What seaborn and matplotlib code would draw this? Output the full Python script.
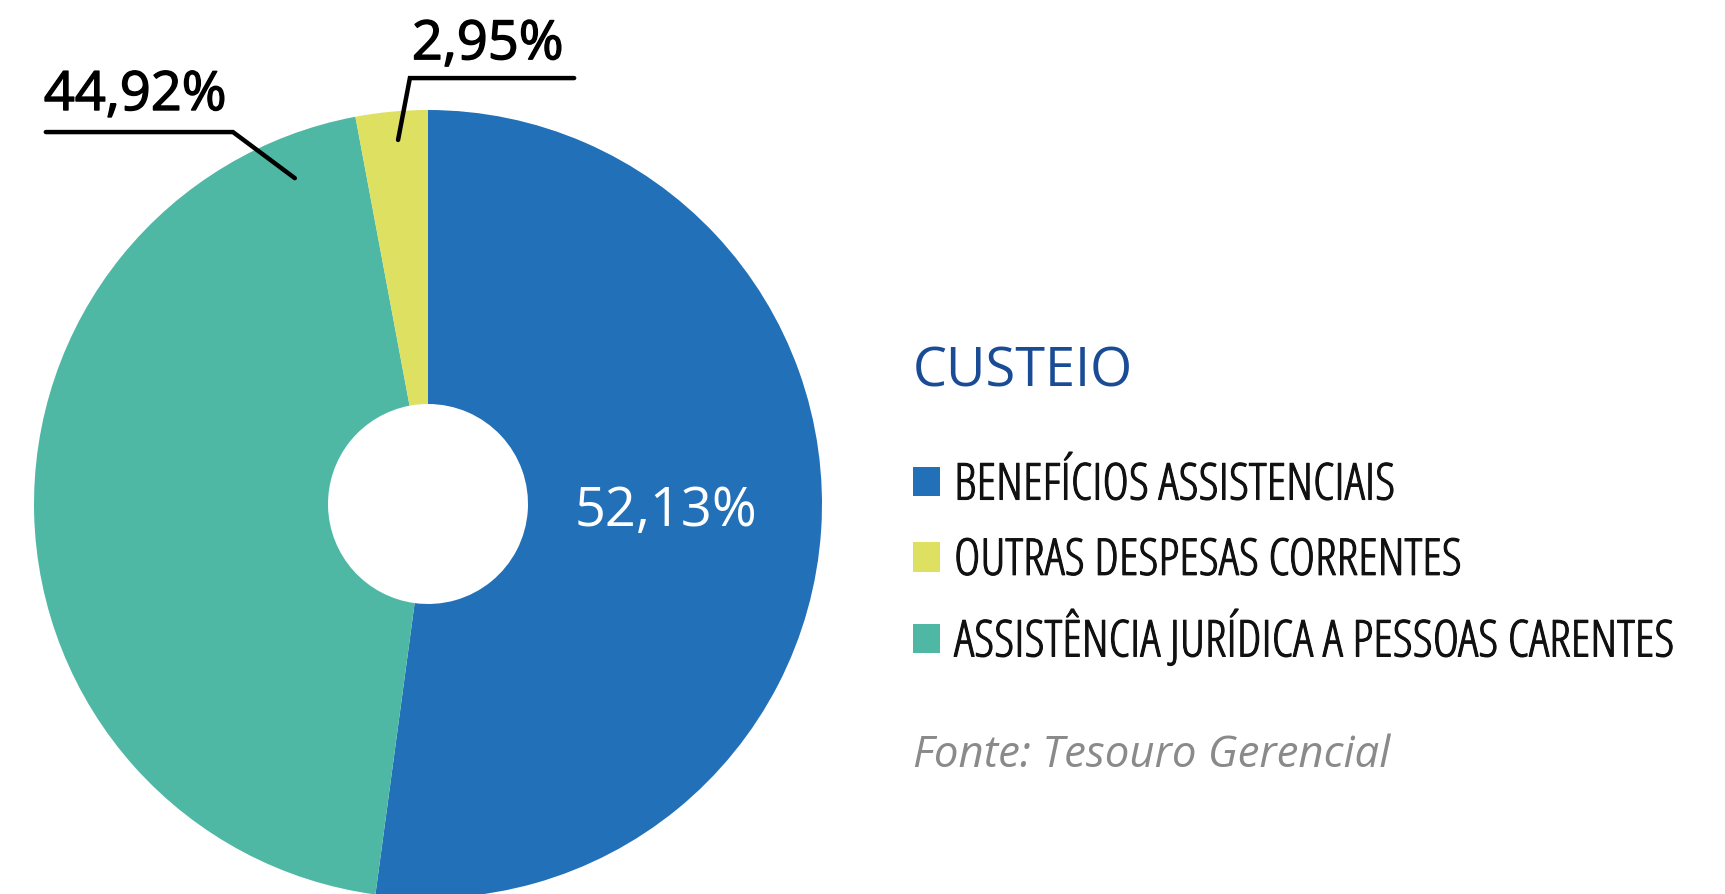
import matplotlib
matplotlib.use("Agg")
import matplotlib.pyplot as plt
import seaborn as sns
from matplotlib.patches import Patch
from matplotlib import font_manager as fm
import matplotlib.patheffects as pe

# ---- data ----
categories = ["BENEFÍCIOS ASSISTENCIAIS",
              "OUTRAS DESPESAS CORRENTES",
              "ASSISTÊNCIA JURÍDICA A PESSOAS CARENTES"]
shares = [52.13, 2.95, 44.92]
colors = ["#2270b7", "#dee062", "#4eb8a4"]
pie_order = [0, 2, 1]          # clockwise from 12 o'clock
title_text = "CUSTEIO"
source_text = "Fonte: Tesouro Gerencial"

sns.set_theme(style="white")
plt.rcParams['font.family'] = ['Open Sans', 'DejaVu Sans']


def font_file(name, fallback_style="normal"):
    for f in fm.fontManager.ttflist:
        if f.fname.endswith(name):
            return fm.FontProperties(fname=f.fname)
    return fm.FontProperties(family="Open Sans", style=fallback_style)


W, H = 1725, 895
fig = plt.figure(figsize=(W / 100, H / 100), dpi=100)
cx, cy, R = 428, 505, 394
ax = fig.add_axes([(cx - R) / W, (H - cy - R) / H, 2 * R / W, 2 * R / H])

vals = [shares[i] for i in pie_order]
cols = [colors[i] for i in pie_order]
wedges, _ = ax.pie(vals, colors=cols, startangle=90, counterclock=False,
                   radius=1, wedgeprops=dict(width=1 - 100 / R, linewidth=0),
                   frame=False)
ax.set_xlim(-1, 1)
ax.set_ylim(-1, 1)
ax.axis("off")


def fmt(v):
    return f"{v:.2f}".replace(".", ",") + "%"


lab_fs = 39
ax.text(0.371, -0.053, fmt(shares[0]), color="white", fontsize=lab_fs,
        ha="left", va="baseline")
thick = [pe.withStroke(linewidth=1.0, foreground="black")]
lw = 3.2
ax.plot([-0.338, -0.495, -0.970], [0.827, 0.944, 0.944], color="black",
        lw=lw, solid_capstyle="round", solid_joinstyle="miter", clip_on=False)
ax.text(-0.975, 1.000, fmt(shares[2]), color="black", fontsize=lab_fs,
        ha="left", va="baseline", clip_on=False, path_effects=thick)
ax.plot([-0.076, -0.046, 0.371], [0.924, 1.081, 1.081], color="black",
        lw=lw, solid_capstyle="round", solid_joinstyle="miter", clip_on=False)
ax.text(-0.041, 1.129, fmt(shares[1]), color="black", fontsize=lab_fs,
        ha="left", va="baseline", clip_on=False, path_effects=thick)

# title
fig.text(913 / W, 1 - 387 / H, title_text, color="#1a4c96", fontsize=39,
         ha="left", va="baseline")

# legend
leg_fp = font_file("OpenSans-CondLight.ttf")
leg_fp.set_size(36.5)
handles = [Patch(facecolor=c, edgecolor="none") for c in colors]
leg = fig.legend(handles, categories, loc="upper left",
                 bbox_to_anchor=(913 / W, 1 - 461 / H), frameon=False,
                 prop=leg_fp, handlelength=0.53, handleheight=0.53,
                 handletextpad=0.28, labelspacing=0.47, borderpad=0,
                 borderaxespad=0)
for t in leg.get_texts():
    t.set_color("#111111")
    t.set_path_effects([pe.withStroke(linewidth=0.8, foreground="#111111")])

fig.text(913 / W, 1 - 767 / H, source_text, color="#8a8a8a",
         fontsize=31.5, style="italic", ha="left", va="baseline")

fig.savefig("out.png", dpi=100)
